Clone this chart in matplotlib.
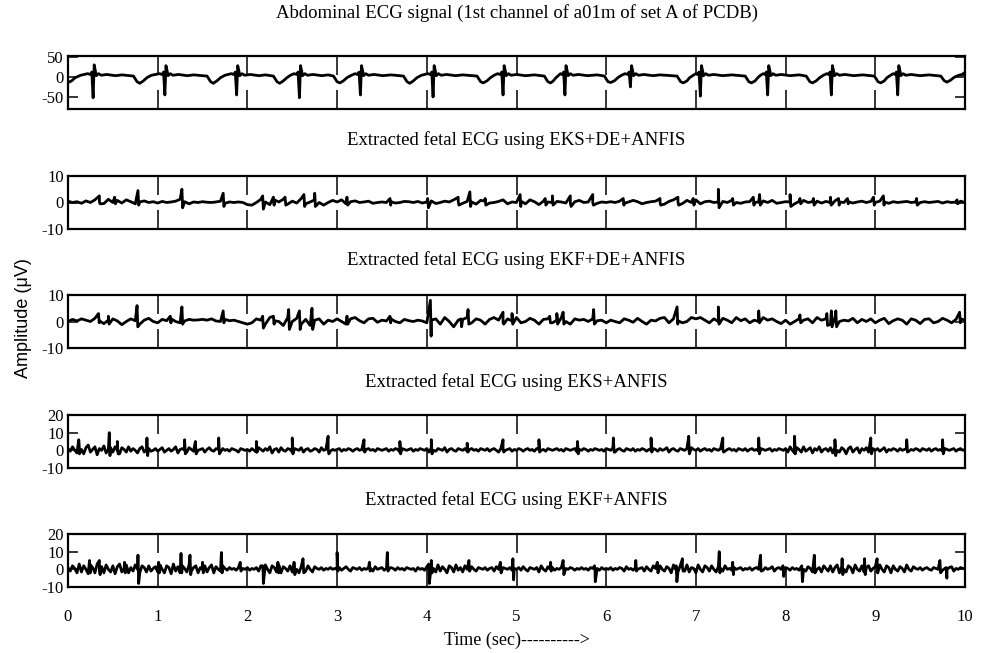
import numpy as np
import matplotlib.pyplot as plt

plt.rcParams['axes.unicode_minus'] = False

# ---------------- data ----------------
# abdominal ECG: polyline vertices (time in s, amplitude)
t_abd = [0.00, 0.04, 0.08, 0.14, 0.22, 0.25, 0.265, 0.28, 0.292, 0.305, 0.315, 0.34, 0.37, 0.43, 0.53, 0.60,
         0.73, 0.77, 0.80, 0.84, 0.88, 0.93, 1.02, 1.05, 1.065, 1.08, 1.092, 1.105, 1.115, 1.14, 1.17, 1.23, 1.33, 1.40,
         1.55, 1.59, 1.62, 1.66, 1.70, 1.75, 1.82, 1.85, 1.865, 1.88, 1.892, 1.905, 1.915, 1.94, 1.97, 2.03, 2.13, 2.20,
         2.29, 2.33, 2.36, 2.40, 2.44, 2.48, 2.52, 2.55, 2.565, 2.58, 2.592, 2.605, 2.615, 2.64, 2.67, 2.73, 2.83, 2.90,
         2.96, 3.00, 3.03, 3.07, 3.11, 3.16, 3.20, 3.23, 3.245, 3.26, 3.272, 3.285, 3.295, 3.32, 3.35, 3.41, 3.51, 3.60,
         3.74, 3.78, 3.81, 3.85, 3.89, 3.94, 4.01, 4.04, 4.055, 4.07, 4.082, 4.095, 4.105, 4.13, 4.16, 4.22, 4.32, 4.40,
         4.56, 4.60, 4.63, 4.67, 4.71, 4.75, 4.79, 4.82, 4.835, 4.85, 4.862, 4.875, 4.885, 4.91, 4.94, 5.00, 5.10, 5.20,
         5.31, 5.35, 5.38, 5.41, 5.44, 5.47, 5.49, 5.51, 5.525, 5.54, 5.552, 5.565, 5.575, 5.60, 5.63, 5.69, 5.79, 5.90,
         5.98, 6.02, 6.05, 6.09, 6.13, 6.17, 6.21, 6.24, 6.255, 6.27, 6.282, 6.295, 6.305, 6.33, 6.36, 6.42, 6.52, 6.60,
         6.79, 6.83, 6.86, 6.90, 6.93, 6.97, 7.00, 7.02, 7.035, 7.05, 7.062, 7.075, 7.085, 7.11, 7.14, 7.20, 7.30, 7.40,
         7.55, 7.59, 7.62, 7.66, 7.69, 7.72, 7.75, 7.77, 7.785, 7.80, 7.812, 7.825, 7.835, 7.86, 7.89, 7.95, 8.05, 8.15,
         8.23, 8.27, 8.30, 8.34, 8.38, 8.42, 8.46, 8.48, 8.495, 8.51, 8.522, 8.535, 8.545, 8.57, 8.60, 8.66, 8.76, 8.86,
         8.99, 9.03, 9.06, 9.10, 9.13, 9.17, 9.20, 9.22, 9.235, 9.25, 9.262, 9.275, 9.285, 9.31, 9.34, 9.40, 9.50, 9.60,
         9.73, 9.77, 9.80, 9.84, 9.88, 9.93, 9.97, 9.99, 10.0]
v_abd = [-14, -10, -2, 4, 8, 6, 12, -52, 30, 15, 3, 8, 4, 6, 3, 5,
         2, -12, -16, -10, -2, 4, 8, 6, 12, -45, 28, 15, 3, 8, 4, 6, 3, 5,
         2, -12, -16, -10, -2, 4, 8, 6, 12, -45, 28, 15, 3, 8, 4, 6, 3, 5,
         2, -12, -16, -10, -2, 4, 8, 6, 12, -52, 28, 15, 3, 8, 4, 6, 3, 5,
         2, -12, -15, -10, -2, 4, 8, 6, 12, -45, 28, 15, 3, 8, 4, 6, 3, 5,
         2, -12, -16, -10, -2, 4, 8, 6, 12, -50, 28, 15, 3, 8, 4, 6, 3, 5,
         2, -12, -15, -10, -2, 4, 8, 6, 12, -45, 28, 15, 3, 8, 4, 6, 3, 5,
         2, -12, -15, -10, -2, 4, 8, 6, 12, -45, 28, 15, 3, 8, 4, 6, 3, 5,
         2, -12, -14, -10, -2, 4, 8, 6, 12, -25, 28, 15, 3, 8, 4, 6, 3, 5,
         2, -12, -15, -10, -2, 4, 8, 6, 12, -48, 28, 15, 3, 8, 4, 6, 3, 5,
         2, -12, -15, -10, -2, 4, 8, 6, 12, -45, 28, 15, 3, 8, 4, 6, 3, 5,
         2, -12, -15, -10, -2, 4, 8, 6, 12, -45, 28, 15, 3, 8, 4, 6, 3, 5,
         2, -12, -15, -10, -2, 4, 8, 6, 12, -45, 28, 15, 3, 8, 4, 6, 3, 5,
         2, -10, -13, -8, -1, 4, 6, 10, 3]

# extracted fetal ECGs: baseline samples on an even grid over 0..10 s
# plus QRS spikes given as (time, peak, trough)
base_eks_de = [0.5, 0.0, 0.3, -0.3, 0.6, 0.0, 1.0, 0.2, -0.4, 1.2, 0.0, 0.8, -0.2, 1.0, 0.3, -0.5, 0.2, 0.6, 0.0, 0.3, -0.2,
               0.4, 0.0, 0.2, 0.5, 1.2, 0.3, -0.5, 0.2, 0.0, 0.3, 0.1, 0.0, 0.2, 0.5, -0.3, 0.2, 0.0, 0.2, 0.0, -0.8,
               -1.0, 0.0, 1.2, 0.2, -0.8, 1.0, 0.2, 1.2, -0.6, 0.5, -0.2, 1.5, -0.5, 0.2, 1.0, 0.0, -1.0, 0.0, 0.8, 0.2,
               1.0, -0.5, 0.3, 0.6, 0.0, 0.2, 0.5, -0.3, 0.0, 0.2, 0.0, 0.3, -0.2, 0.0, 0.4, 0.3, 0.0, 0.4, -0.2, 0.2,
               0.6, -0.4, 0.0, 0.5, 0.2, 1.0, 0.5, -0.3, 0.4, 0.2, -0.6, 0.8, 0.5, -0.2, 0.0, 0.4, 1.0, -0.5, 0.2, 0.0,
               0.5, -0.5, 1.0, 0.3, -0.8, 0.5, 0.2, 0.0, 0.4, 0.2, -0.2, 0.0, 0.3, 0.8, 0.0, 0.2, 0.0, -0.3, 0.2, 0.0,
               0.3, 0.0, 0.5, -0.3, 0.2, 0.8, 0.3, -0.5, 0.0, 0.3, 0.5, 0.0, -0.6, 0.4, 1.0, 0.2, -0.4, 0.8, 0.0, 1.0,
               -0.5, 0.3, 0.5, 0.0, 0.2, 0.4, 0.0, 0.8, 0.0, -0.3, 0.2, 0.3, 0.0, 0.2, 0.6, 0.0, 0.8, -0.3, 0.0, 0.3,
               0.2, -0.5, 0.4, 0.8, 0.0, 0.3, 0.5, -0.2, 0.4, 0.0, 0.6, 0.2, 0.0, 0.3, -0.2, 0.2, 0.5, 0.0, 0.4, 0.0,
               0.5, 0.2, -0.3, 0.3, 0.0, 0.2, 0.4, 0.0, 0.2, 0.0, 0.3, 0.0, 0.2, 0.4, -0.2, 0.3, 0.0, 0.2, 0.5, 0.0]
spk_eks_de = [(0.35, 2.5, -0.5), (0.52, 2.0, -0.5), (0.78, 4.5, -1.0), (1.27, 5.0, -2.0), (1.73, 3.5, -1.5),
              (2.17, 2.5, -2.5), (2.29, 2.0, -1.0), (2.42, 2.0, -1.0), (2.63, 3.0, -1.5), (2.75, 3.5, -1.5),
              (3.11, 2.0, -1.0), (3.59, 1.5, -1.0), (4.01, 1.5, -2.0), (4.35, 2.0, -1.0), (4.48, 4.0, -1.5),
              (4.65, 1.5, -1.0), (5.04, 3.0, -1.5), (5.32, 1.5, -1.0), (5.40, 2.5, -1.0), (5.60, 2.5, -1.5),
              (5.85, 3.0, -1.0), (6.19, 1.5, -1.0), (6.60, 1.5, -1.0), (6.80, 2.0, -1.0), (6.97, 1.5, -1.0),
              (7.25, 5.0, -2.0), (7.41, 1.5, -1.0), (7.64, 2.0, -1.0), (7.71, 3.0, -1.0), (8.05, 3.0, -1.5),
              (8.16, 1.5, -0.5), (8.31, 1.5, -1.0), (8.50, 2.0, -1.0), (8.59, 1.5, -1.0), (8.69, 1.5, -0.5),
              (8.98, 2.0, -1.0), (9.09, 2.5, -1.0), (9.46, 1.5, -1.0), (9.91, 1.0, -0.5)]

base_ekf_de = [0.0, 0.8, 0.2, 1.0, 0.5, 0.0, 1.2, 0.3, -0.8, 0.5, 1.0, 0.2, -1.2, 0.0, 1.0, 0.3, -1.0, 0.5, 1.2, 0.0, -0.5,
               0.8, 0.3, 1.0, 0.0, -0.5, 0.2, 0.8, 0.5, 0.6, 0.8, 0.5, 1.0, 0.2, 0.0, 0.8, 0.3, 0.5, 0.0, -0.5, -1.0,
               -0.5, 1.0, 0.5, -1.0, 1.5, 0.3, 0.0, -1.5, 1.5, 0.0, 1.2, -1.0, 0.8, -1.5, 0.5, 1.0, -1.0, 0.5, 0.0, 1.0,
               0.0, -1.0, 1.0, 1.5, 0.3, -0.5, 1.0, 1.2, -0.3, 0.5, 0.2, 1.0, 0.0, -0.5, 0.8, 0.3, 0.0, 0.5, 0.2, -0.5,
               0.5, 1.0, -1.0, 1.5, 0.0, -2.0, 0.5, 0.8, 1.5, -0.5, 1.0, 0.5, -1.0, 0.8, 1.5, 0.5, -0.5, 1.0, 0.2, 1.5,
               -0.5, 0.0, 1.2, 0.5, -1.0, 0.8, 1.0, -0.5, 0.5, 1.5, 0.0, -1.0, 1.0, 0.5, 0.8, 0.0, 1.0, 0.3, 0.5, -0.5,
               0.5, 0.0, -0.5, 1.0, 0.5, -0.3, 1.2, 0.0, -1.0, 0.5, 0.2, 1.2, 1.5, -0.5, 1.0, 0.3, -0.5, 0.0, 1.5, 1.0,
               1.5, 0.5, -0.5, 1.0, 0.0, 1.2, 0.5, -0.5, 1.5, 0.3, 1.0, -0.5, 0.5, 0.0, 1.5, 0.5, 1.0, 0.0, -0.8, 0.5,
               -1.0, 0.0, 1.0, 0.5, 1.0, -0.5, 1.5, 0.5, 1.0, -1.0, 1.5, 0.0, 0.5, 0.2, 1.2, -0.5, 0.8, 0.0, 1.0, -0.5,
               0.5, 1.2, -0.8, 0.3, 1.0, 0.5, -1.0, 1.0, 0.5, -0.8, 0.8, 1.0, -0.5, 0.0, 1.2, 0.5, -0.5, 0.8, 1.0, 0.5]
spk_ekf_de = [(0.34, 3.0, -0.5), (0.45, 2.0, -1.0), (0.77, 6.0, -2.0), (1.14, 2.0, -0.5), (1.27, 5.5, -1.0),
              (1.73, 4.0, -0.5), (2.17, 2.0, -2.5), (2.29, 2.0, -1.0), (2.46, 4.5, -3.0), (2.58, 4.0, -3.0),
              (2.72, 5.0, -3.0), (3.11, 2.0, -1.0), (3.59, 2.0, -0.5), (4.04, 8.0, -5.5), (4.38, 1.0, -2.0),
              (4.46, 4.5, -1.0), (4.85, 3.5, -1.0), (4.95, 3.0, -1.0), (5.37, 2.0, -0.5), (5.45, 3.0, -1.0),
              (5.52, 3.5, -1.0), (5.86, 4.5, -1.0), (6.79, 5.5, -1.0), (7.25, 5.5, -1.0), (7.70, 4.0, -0.5),
              (8.16, 2.5, -0.5), (8.46, 3.0, -1.5), (8.51, 4.0, -2.0), (8.56, 4.0, -2.0), (9.94, 3.5, -0.5)]

# EKS+ANFIS and EKF+ANFIS baselines: 0.025 s grid, one row per half second
base_eks = [1.0, -0.5, 2.0, 0.0, -1.5, 2.5, 0.5, -2.0, 1.5, 3.0, -1.0, 0.5, 2.0, -2.5, 1.0, 0.0, 2.5, -1.5, 0.5, 1.5,
            -1.0, 2.0, 0.0, -2.0, 1.5, 0.5, -1.0, 2.0, -0.5, 1.0, 0.0, -1.5, 1.0, 2.0, -1.0, 0.5, 1.0, -0.5, 0.0, 1.0,
            -0.5, 0.5, 1.5, -1.0, 0.0, 1.0, -0.5, 0.5, 2.0, -1.5, 0.5, 1.0, 0.0, -1.0, 1.5, 0.5, -0.5, 1.0, 0.0, 0.5,
            1.0, -1.0, 0.5, 1.5, 0.0, -0.5, 1.0, 0.5, -1.0, 1.0, 0.0, 0.5, -0.5, 1.0, 0.5, 0.0, -1.0, 1.0, 0.5, 0.0,
            0.5, -0.5, 1.0, 0.0, -1.0, 1.5, 0.5, -0.5, 1.0, 0.0, 2.0, -1.5, 0.5, 1.0, -1.0, 1.5, 0.0, -0.5, 1.0, 0.5,
            -1.0, 1.0, 0.5, 0.0, 1.5, -1.0, 0.5, 1.0, -0.5, 0.0, 1.0, 0.5, -1.0, 1.5, 0.0, 0.5, 1.0, -0.5, 0.5, 0.0,
            0.5, 1.0, -0.5, 0.5, 0.0, 1.0, 0.5, -0.5, 0.5, 1.0, 0.0, 0.5, -0.5, 0.5, 1.0, 0.0, 0.5, -0.5, 1.0, 0.5,
            0.0, 0.5, 1.0, -0.5, 0.5, 0.0, 1.0, 0.5, -1.0, 1.0, 0.5, 0.0, 0.5, 1.0, -0.5, 0.5, 0.0, 1.0, 0.5, 0.0,
            1.0, -1.0, 1.5, 0.0, -0.5, 1.0, 0.5, 0.0, 1.5, -1.0, 0.5, 1.0, 0.0, -0.5, 1.0, 0.5, 0.0, 1.0, -0.5, 0.5,
            1.0, 0.0, 0.5, -0.5, 1.0, 0.5, 0.0, 1.0, -0.5, 0.5, 1.0, 0.0, -1.0, 1.0, 0.5, 0.0, 0.5, 1.0, -0.5, 0.5,
            0.0, 1.0, 0.5, -0.5, 0.5, 1.0, 0.0, 0.5, -0.5, 1.0, 0.5, 0.0, 0.5, -0.5, 1.0, 0.5, 0.0, 0.5, 1.0, 0.0,
            0.5, -0.5, 1.0, 0.5, 0.0, 0.5, 1.0, -1.0, 0.5, 0.0, 1.0, 0.5, -0.5, 0.5, 0.0, 1.0, 0.5, 0.0, 0.5, -0.5,
            1.0, 0.5, 0.0, 1.5, -1.0, 0.5, 1.0, 0.0, -0.5, 1.0, 0.5, 0.0, 1.0, -0.5, 0.5, 0.0, 1.0, 0.5, -0.5, 0.5,
            0.0, 1.0, 0.5, -0.5, 1.0, 0.0, 0.5, 1.5, -1.0, 0.5, 1.0, 0.0, -0.5, 1.0, 0.5, 0.0, 1.0, -1.0, 1.5, 0.5,
            0.0, 1.0, -0.5, 0.5, 1.0, 0.0, 0.5, -0.5, 1.0, 0.5, 0.0, 1.0, 0.5, -0.5, 0.5, 1.0, 0.0, 0.5, -0.5, 1.0,
            0.5, 0.0, 1.0, -0.5, 0.5, 1.0, 0.0, 0.5, -0.5, 1.0, 0.5, 0.0, 0.5, 1.0, -0.5, 0.5, 0.0, 1.0, 0.5, 0.0,
            1.0, -1.0, 2.0, 0.0, -1.5, 1.5, 0.5, -1.0, 2.0, -0.5, 0.5, 1.5, -1.5, 1.0, 0.0, 2.0, -1.0, 0.5, 1.0, -0.5,
            1.5, -1.5, 2.0, 0.0, -1.0, 1.5, 0.5, -2.0, 1.0, 2.0, -1.0, 0.5, 1.5, -1.5, 1.0, 0.0, 1.5, -1.0, 0.5, 1.0,
            0.0, 1.0, -0.5, 0.5, 1.5, -1.0, 0.5, 0.0, 1.0, 0.5, -0.5, 1.0, 0.0, 0.5, 1.0, -0.5, 0.5, 0.0, 1.0, 0.5,
            -0.5, 1.0, 0.5, 0.0, 1.0, -0.5, 0.5, 1.0, 0.0, 0.5, -0.5, 1.0, 0.5, 0.0, 0.5, 1.0, -0.5, 0.5, 1.0, 0.0,
            0.5]
spk_eks = [(0.12, 6, -2), (0.46, 10, -3), (0.55, 5, -2), (0.88, 7, -3), (1.30, 6, -2), (1.42, 5, -2),
           (1.68, 7, -2), (2.10, 5, -1), (2.50, 7, -2), (2.90, 8, -2), (3.30, 6, -1), (3.70, 5, -2),
           (4.05, 6, -2), (4.45, 4, -1), (4.85, 6, -1), (5.25, 6, -1), (5.68, 5, -2), (6.08, 7, -1),
           (6.50, 7, -1), (6.92, 8, -2), (7.30, 7, -1), (7.70, 7, -2), (8.10, 8, -2), (8.55, 6, -3),
           (8.95, 7, -2), (9.35, 6, -1), (9.75, 6, -2)]

base_ekf = [1.0, -1.0, 2.0, 0.5, -2.0, 3.0, -1.5, 2.0, 0.0, -2.5, 2.5, 1.0, -2.0, 3.0, -1.0, 1.5, -2.0, 2.5, 0.0, -1.5,
            2.0, -2.5, 1.5, 3.0, -1.5, 0.5, 2.5, -2.0, 1.0, -1.0, 2.5, 0.0, -2.0, 2.0, 1.0, -1.5, 2.0, -1.0, 0.5, 1.5,
            -1.5, 2.5, 0.0, -2.0, 2.0, 1.0, -2.5, 3.0, -1.0, 1.5, -2.0, 2.0, 0.5, -1.5, 2.5, -1.0, 1.0, 2.0, -2.0, 1.0,
            0.0, 2.0, -1.5, 1.0, 2.5, -2.0, 1.5, 0.0, -1.0, 2.0, 0.5, -0.5, 1.0, 0.0, 0.5, -0.5, 1.0, 0.0, 0.5, 0.0,
            1.0, -0.5, 0.5, 0.0, 1.0, -1.0, 2.0, -1.5, 2.5, 0.0, -2.0, 2.0, 1.0, -1.5, 2.5, -2.0, 1.5, 0.5, -1.0, 2.0,
            -1.5, 2.5, 0.0, -2.0, 1.5, 1.0, -1.0, 2.0, 0.0, -1.5, 1.5, 0.5, 0.0, 1.0, -0.5, 0.5, 0.0, 1.0, 0.0, 0.5,
            0.0, 1.0, -0.5, 0.5, 1.5, 0.0, -1.0, 1.0, 0.5, 0.0, 1.0, -0.5, 0.5, 0.0, 1.0, 0.5, -1.0, 1.5, 0.0, 0.5,
            1.0, -0.5, 0.5, 0.0, 1.0, 0.5, -0.5, 1.0, 0.0, 0.5, -0.5, 1.0, 0.5, 0.0, 0.5, -1.0, 1.0, 0.0, 0.5, -0.5,
            1.5, -2.0, 2.0, 0.5, -1.5, 2.5, -1.0, 1.5, 0.0, -2.0, 2.0, 1.0, -1.5, 2.5, -0.5, 1.0, -1.5, 2.0, 0.0, -1.0,
            1.5, 0.0, -1.0, 1.0, 0.5, 0.0, 1.0, -0.5, 0.5, 1.0, -1.0, 1.5, 0.0, -0.5, 1.0, 0.5, 0.0, 1.0, -0.5, 0.5,
            0.0, 1.0, -0.5, 1.5, 0.0, -1.0, 1.0, 0.5, 0.0, 1.0, -1.5, 2.0, 0.0, -1.0, 1.5, 0.0, 1.0, -0.5, 0.5, 0.0,
            1.0, -0.5, 0.5, 0.0, 1.0, 0.5, -0.5, 0.5, 0.0, 1.0, 0.0, 0.5, -0.5, 1.0, 0.5, 0.0, 0.5, -0.5, 1.0, 0.0,
            0.5, 0.0, 1.0, -0.5, 0.5, 0.0, 1.0, 0.5, -1.0, 1.5, 0.0, 0.5, -0.5, 1.0, 0.0, 0.5, 1.0, -1.0, 1.5, 0.0,
            -1.0, 2.0, 0.5, -1.5, 2.0, 0.0, -1.0, 1.5, 0.5, -2.0, 2.5, 0.0, -1.5, 2.0, 1.0, -1.0, 2.5, -1.5, 1.0, 0.5,
            -2.0, 2.5, 0.0, -1.5, 2.0, 1.0, -1.0, 2.0, 0.0, -1.5, 1.5, 0.5, -1.0, 2.0, 0.0, 0.5, -0.5, 1.0, 0.0, 0.5,
            1.0, -0.5, 0.5, 0.0, 1.0, -0.5, 0.5, 1.0, 0.0, 0.5, -0.5, 1.0, 0.0, 0.5, 1.5, -1.0, 0.5, 1.0, 0.0, -0.5,
            1.0, 0.5, -0.5, 1.0, 0.0, 0.5, -0.5, 1.5, 0.0, -1.0, 1.5, 0.5, -1.5, 2.0, 0.0, 1.0, -1.5, 2.0, 0.5, -1.0,
            2.0, -1.5, 1.0, 2.5, -2.0, 1.5, 0.0, -1.5, 2.0, 1.0, -2.0, 2.5, 0.0, -1.0, 2.0, -1.5, 1.0, 2.0, -1.0, 0.5,
            1.5, -2.0, 2.5, 0.0, -1.5, 2.0, 1.0, -2.0, 2.0, 0.0, -1.0, 1.5, 0.5, -1.5, 2.5, 0.0, -1.0, 1.5, 0.5, 0.0,
            1.0, -0.5, 0.5, 1.0, 0.0, -0.5, 1.0, 0.5, 0.0, 1.0, -0.5, 0.5, 0.0, 1.0, 1.5, -1.0, 0.5, 0.0, 1.0, 0.5,
            0.5]
spk_ekf = [(0.24, 5, -2), (0.35, 5, -3), (0.63, 4, -2), (0.78, 8, -8), (1.01, 4, -2), (1.26, 9, -2),
           (1.36, 8, -3), (1.50, 4, -2), (1.71, 9.5, -2), (1.92, 4, -1), (2.17, 2, -8), (2.34, 4, -2),
           (2.52, 4, -3), (2.62, 6, -2), (3.00, 9.5, -1), (3.36, 4, -1), (3.56, 9.5, -1), (4.02, 3, -8),
           (4.05, 5, -2), (4.47, 5, -1), (4.82, 4, -2), (4.96, 6, -6), (5.38, 4, -1), (5.52, 5, -3),
           (5.87, 2, -7), (6.33, 5, -1), (6.57, 4, -2), (6.78, 2, -7), (6.85, 6, -1), (7.26, 10, -2),
           (7.41, 4, -3), (7.72, 8, -1), (7.97, 2, -4), (8.18, 2, -7), (8.32, 8, -2), (8.63, 6, -3),
           (8.88, 6, -3), (9.02, 6, -2), (9.72, 5, -2), (9.79, 1, -5)]

titles = ['Abdominal ECG signal (1st channel of a01m of set A of PCDB)',
          'Extracted fetal ECG using EKS+DE+ANFIS',
          'Extracted fetal ECG using EKF+DE+ANFIS',
          'Extracted fetal ECG using EKS+ANFIS',
          'Extracted fetal ECG using EKF+ANFIS']
ylims = [(-80, 52), (-10, 10), (-10, 10), (-10, 20), (-10, 20)]
yticks = [[-50, 0, 50], [-10, 0, 10], [-10, 0, 10], [-10, 0, 10, 20], [-10, 0, 10, 20]]
xticks = list(range(0, 11))


def with_spikes(base, spikes):
    tb = np.linspace(0, 10, len(base))
    ts = [s[0] for s in spikes] + [s[0] + 0.008 for s in spikes]
    vs = [s[1] for s in spikes] + [s[2] for s in spikes]
    t = np.concatenate([tb, ts])
    v = np.concatenate([base, vs])
    order = np.argsort(t, kind='stable')
    return t[order], v[order]


signals = [(np.array(t_abd), np.array(v_abd)),
           with_spikes(base_eks_de, spk_eks_de),
           with_spikes(base_ekf_de, spk_ekf_de),
           with_spikes(base_eks, spk_eks),
           with_spikes(base_ekf, spk_ekf)]

# ---------------- figure ----------------
W, H = 981, 653
fig = plt.figure(figsize=(W / 100, H / 100), dpi=100)
serif = 'Liberation Serif'

left, right = 68, 965
tops = [56, 176, 295, 415, 534]
height = 53
title_y = [13, 140, 260, 382, 500]

for i, (t, v) in enumerate(signals):
    ax = fig.add_axes([left / W, 1 - (tops[i] + height) / H, (right - left) / W, height / H])
    ax.plot(t, v, color='black', lw=2.0)
    ax.set_xlim(0, 10)
    ax.set_ylim(*ylims[i])
    ax.set_xticks(xticks)
    ax.set_yticks(yticks[i])
    ax.tick_params(axis='x', direction='in', top=True, length=14, width=1.1,
                   labelbottom=(i == 4), labelsize=12, pad=16)
    ax.tick_params(axis='y', direction='in', right=True, length=7, width=1.1,
                   labelsize=12, pad=3)
    for lab in ax.get_xticklabels() + ax.get_yticklabels():
        lab.set_family(serif)
    for sp in ax.spines.values():
        sp.set_linewidth(1.6)
    fig.text(0.5 * (left + right) / W, 1 - title_y[i] / H, titles[i],
             ha='center', va='center', fontsize=13.5, family=serif)

fig.text(24 / W, 1 - 318 / H, 'Amplitude (\u03bcV)', rotation=90, ha='center', va='center',
         fontsize=13, family='Liberation Sans')
fig.text(0.5 * (left + right) / W, 1 - 640 / H, 'Time (sec)---------->',
         ha='center', va='center', fontsize=13, family=serif)

fig.savefig('out.png', dpi=100)
